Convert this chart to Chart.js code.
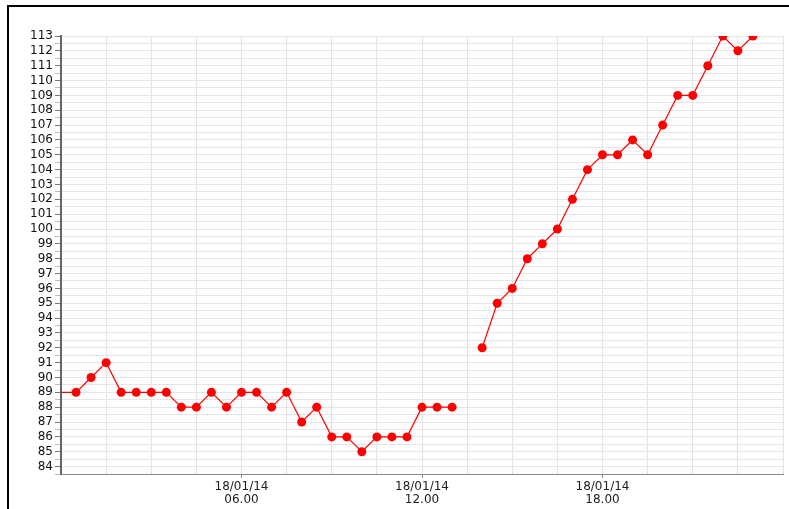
<!DOCTYPE html>
<html>
<head>
<meta charset="utf-8">
<script src="https://cdn.jsdelivr.net/npm/chart.js@4"></script>
<style>
  html, body { margin: 0; padding: 0; background: #fff; overflow: hidden; }
  #frame {
    position: absolute; left: 7px; top: 5px;
    width: 820px; height: 540px;
    border-top: 2px solid #000; border-left: 2px solid #000;
  }
  #wrap { position: absolute; left: 0; top: 0; width: 789px; height: 509px; }
</style>
</head>
<body>
<div id="frame"></div>
<div id="wrap"><canvas id="chart" width="789" height="509"></canvas></div>
<script>
// Half-hourly readings, 18/01/14 (13:30 missing)
const times = [
  '00:00', '00:30', '01:00', '01:30', '02:00', '02:30', '03:00', '03:30',
  '04:00', '04:30', '05:00', '05:30', '06:00', '06:30', '07:00', '07:30',
  '08:00', '08:30', '09:00', '09:30', '10:00', '10:30', '11:00', '11:30',
  '12:00', '12:30', '13:00', '13:30', '14:00', '14:30', '15:00', '15:30',
  '16:00', '16:30', '17:00', '17:30', '18:00', '18:30', '19:00', '19:30',
  '20:00', '20:30', '21:00', '21:30', '22:00', '22:30', '23:00'
];
const values = [
  89, 89, 90, 91, 89, 89, 89, 89,
  88, 88, 89, 88, 89, 89, 88, 89,
  87, 88, 86, 86, 85, 86, 86, 86,
  88, 88, 88, null, 92, 95, 96, 98,
  99, 100, 102, 104, 105, 105, 106, 105,
  107, 109, 109, 111, 113, 112, 113
];
// labelled x ticks (hours) and their text
const xTickHours = [6, 12, 18];
const xTickLabels = [['18/01/14', '06.00'], ['18/01/14', '12.00'], ['18/01/14', '18.00']];

function toHours(t) {
  const [h, m] = t.split(':').map(Number);
  return h + m / 60;
}

const points = times.map((t, i) => ({ x: toHours(t), y: values[i] }));

new Chart(document.getElementById('chart').getContext('2d'), {
  type: 'line',
  data: {
    datasets: [{
      data: points,
      borderColor: '#ff0000',
      borderWidth: 1.2,
      backgroundColor: '#ff0000',
      pointBackgroundColor: '#ff0000',
      pointBorderWidth: 0,
      pointRadius: ctx => ctx.dataIndex === 0 ? 0 : 4.5,
      tension: 0,
      spanGaps: false
    }]
  },
  options: {
    responsive: false,
    animation: false,
    layout: { padding: { left: 0, top: 36, right: 6, bottom: 0 } },
    plugins: { legend: { display: false }, tooltip: { enabled: false } },
    scales: {
      x: {
        type: 'linear',
        min: 0,
        max: 24,
        afterFit: scale => { scale.height = 35; },
        ticks: {
          stepSize: 1.5,
          autoSkip: false,
          maxRotation: 0,
          padding: 3,
          color: '#222',
          font: { family: 'DejaVu Sans', size: 12, lineHeight: 1.05 },
          callback: v => {
            const i = xTickHours.indexOf(v);
            return i >= 0 ? xTickLabels[i] : '';
          }
        },
        grid: {
          color: '#e4e4e4',
          lineWidth: 1,
          tickLength: 4,
          tickColor: ctx => ctx.tick && xTickHours.includes(ctx.tick.value) ? '#888' : 'rgba(0,0,0,0)'
        },
        border: { color: '#888', width: 1 }
      },
      y: {
        min: 83.5,
        max: 113,
        afterFit: scale => { scale.width = 61; },
        ticks: {
          stepSize: 0.5,
          autoSkip: false,
          padding: 2,
          color: '#111',
          font: { family: 'DejaVu Sans', size: 12 },
          callback: v => Number.isInteger(v) ? String(v) : ''
        },
        grid: {
          color: '#e6e6e6',
          lineWidth: 1,
          tickLength: 6,
          tickColor: ctx => ctx.tick && Number.isInteger(ctx.tick.value) ? '#777' : '#bbb'
        },
        border: { color: '#666', width: 2 }
      }
    }
  }
});
</script>
</body>
</html>
